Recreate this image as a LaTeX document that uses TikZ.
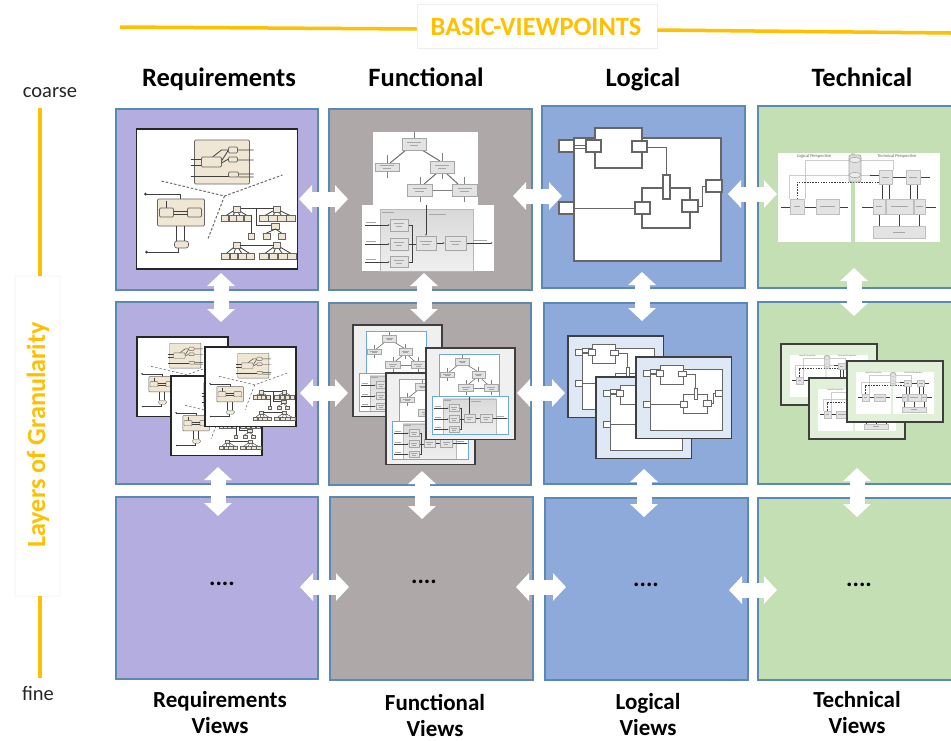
\documentclass[tikz,border=0pt]{standalone}
\usepackage{fontspec}
\setmainfont{Carlito}
\usetikzlibrary{arrows.meta}
\definecolor{reqc}{HTML}{B4ADE0}
\definecolor{func}{HTML}{AEA9A8}
\definecolor{logc}{HTML}{8EAADB}
\definecolor{tecc}{HTML}{C5DFB4}
\definecolor{edgec}{HTML}{5A89B4}
\definecolor{gold}{HTML}{FFC000}
\definecolor{tan}{HTML}{EFE6D3}
\definecolor{ink}{HTML}{3F3F3F}
\definecolor{mblue}{HTML}{6FA8DC}
\definecolor{lframe}{HTML}{DEE9F5}
\definecolor{tframe}{HTML}{E2EFD9}
\def\ms{1}
\tikzset{
 panel/.style={draw=edgec,line width=1.3pt,inner sep=0pt,outer sep=0pt},
 dbl/.style={draw=white,line width=15pt,{Triangle[length=13pt,width=27pt,fill=white]}-{Triangle[length=13pt,width=27pt,fill=white]}},
 rule/.style={draw=gold,line width=3.5pt},
 head/.style={font=\fontsize{26.5}{28}\selectfont\bfseries,text=black,inner sep=0pt,anchor=base},
 foot/.style={font=\fontsize{23}{26}\selectfont\bfseries,text=black,align=center,inner sep=0pt},
 side/.style={font=\fontsize{20.5}{22}\selectfont,text=black!85,inner sep=0pt},
 dots/.style={font=\fontsize{24}{26}\selectfont\bfseries,text=black,inner sep=0pt},
 mline/.style={draw=ink,line width=\ms*0.8pt},
 mthin/.style={draw=ink,line width=\ms*0.5pt},
 mtxt/.style={draw=gray!70,line width=\ms*0.7pt},
 mtan/.style={draw=ink!80,fill=tan,line width=\ms*0.7pt,rounded corners=\ms*1.2pt},
 mbox/.style={draw=gray!70,fill=gray!22,line width=\ms*0.5pt},
 lbox/.style={draw=gray!80!black,fill=white,line width=\ms*1.1pt},
 lwire/.style={draw=gray!80!black,line width=\ms*1pt},
 tbox/.style={draw=gray!50,fill=gray!22,line width=\ms*0.4pt},
 twire/.style={draw=gray!40,line width=\ms*0.8pt},
 ftag/.style={font=\fontsize{4.5}{5}\selectfont,text=gray!80!black,inner sep=0pt,transform shape},
}
% ---------- requirement tree helper: root x, root y, child left, child right, child y
\newcommand{\RTree}[5]{%
 \foreach \ti in {0,1,2,3}{
  \pgfmathsetmacro\tcx{#3+(#4-#3)*(\ti+0.5)/4}
  \pgfmathsetmacro\tcw{(#4-#3)/8.6}
  \draw[mline] (#1,#2+3) -- (\tcx,#5+1);
  \draw[mtan,rounded corners=0pt] (\tcx-\tcw,#5) rectangle (\tcx+\tcw,#5+6);
 }
 \draw[mtan,rounded corners=0pt] (#1-3.5,#2) rectangle (#1+3.5,#2+6);
}
% ---------- requirements diagram (frame 161 x 140)
\newcommand{\ReqDiag}[4]{%
\begin{scope}[shift={(#1,#2)},scale=#3]\def\ms{#3}
 \draw[draw=black!85,fill=white,line width=#4] (0,0) rectangle (161,140);
 % machine block
 \draw[mtan] (58,11) rectangle (113,55);
 \draw[mline] (54,30) -- (65,30) (54,36) -- (65,36) (54,47) -- (92,47);
 \draw[mline] (85,32) -- (92,21) (85,34) -- (92,30) (101,21) -- (117,21) (101,31) -- (117,31) (102,45) -- (117,45) (102,48) -- (117,48) (92,21) -- (85,21) -- (76,28);
 \draw[mtan] (65,28) rectangle (85,38);
 \draw[mtan] (92,18) rectangle (101,24);
 \draw[mtan] (92,28) rectangle (101,33);
 \draw[mtan] (92,43) rectangle (102,48);
 % viewpoint dividers
 \draw[draw=gray!85!black,line width=\ms*1pt,dash pattern=on 2.5pt off 1.8pt] (25,52) -- (88,67) -- (146,46) (88,67) -- (71,111);
 % state block
 \draw[mline] (9,65) -- (44,65) -- (44,70);
 \fill[ink] (9,65) circle (1.5);
 \draw[mline] (10,123) -- (42,123) -- (42,119);
 \fill[ink] (10,123) circle (1.5);
 \draw[mtan] (21,70) rectangle (68,97);
 \draw[mline] (30,72) -- (30,79);
 \draw[mtan] (23,79) rectangle (37,88);
 \draw[mtan] (51,79) rectangle (65,88);
 \draw[mthin] (37,82) -- (51,82) (37,85) -- (51,85);
 \draw[mthin] (40,97) -- (40,112) (48,97) -- (48,112);
 \draw[mtan,rounded corners=\ms*2.5pt] (38,112) rectangle (52,119);
 % trees
 \RTree{100}{77}{85}{115}{86}
 \RTree{140}{77}{123}{159}{86}
 \draw[mline] (104,79) -- (137,79);
 \draw[mline] (120,79) -- (120,96) -- (138,96) (115,86) -- (115,104);
 \draw[mtan,rounded corners=0pt] (112,104) rectangle (118,110);
 \draw[mtan,rounded corners=0pt] (135,94) rectangle (143,100);
 \draw[mline] (139,100) -- (130,104) (139,100) -- (145,104);
 \draw[mtan,rounded corners=0pt] (127,104) rectangle (134,110);
 \draw[mtan,rounded corners=0pt] (142,104) rectangle (149,110);
 \RTree{100}{113}{85}{118}{124}
 \RTree{140}{113}{123}{160}{124}
 \draw[mline] (103,116) -- (137,116);
\end{scope}}
% ---------- functional diagram (132 x 139)
\newcommand{\FBox}[4]{\draw[mbox] (#1,#2) rectangle (#3,#4);
 \draw[mtxt] ({#1+(#3-#1)*.22},{(#2+#4)/2-1.3}) -- ({#3-(#3-#1)*.22},{(#2+#4)/2-1.3}) ({#1+(#3-#1)*.32},{(#2+#4)/2+1.5}) -- ({#3-(#3-#1)*.32},{(#2+#4)/2+1.5});}
\newcommand{\FuncDiag}[4]{%
\begin{scope}[shift={(#1,#2)},scale=#3]\def\ms{#3}
 \fill[white] (11,0) rectangle (116,73);
 \fill[white] (0,73) rectangle (132,139);
 \shade[top color=gray!30,bottom color=gray!12] (18,77) rectangle (111,139);
 \draw[gray!55,line width=\ms*0.4pt] (18,77) rectangle (111,139);
 % hierarchy
 \draw[draw=gray!85!black,line width=\ms*1pt] (44,18) -- (28,31) (60,18) -- (78,29) (75,41) -- (62,52) (84,41) -- (96,52);
 \draw[mthin,gray] (52,0) -- (52,6) (25,23) -- (25,31) (80,21) -- (80,29) (25,39) -- (25,46) (58,45) -- (58,52) (102,45) -- (102,52) (80,41) -- (80,47) (58,64) -- (58,70) (102,64) -- (102,70) (70,58) -- (90,58);
 \FBox{40}{6}{64}{18}
 \FBox{13}{31}{37}{39}
 \FBox{68}{29}{92}{41}
 \FBox{45}{52}{70}{64}
 \FBox{90}{52}{115}{64}
 % control flow
 \draw[mthin,-{Latex[length=\ms*2pt]}] (64,73) -- (64,104);
 \draw[mthin,-{Latex[length=\ms*2pt]}] (3,93) -- (28,93);
 \draw[mthin,-{Latex[length=\ms*2pt]}] (3,112) -- (28,112);
 \draw[mthin,-{Latex[length=\ms*2pt]}] (3,130) -- (28,130);
 \draw[mthin] (46,93) -- (50,93) -- (50,130) -- (46,130) (46,112) -- (54,112);
 \draw[mthin,-{Latex[length=\ms*2pt]}] (74,111) -- (83,111);
 \draw[mthin,-{Latex[length=\ms*2pt]}] (104,111) -- (131,111);
 \FBox{28}{87}{46}{99}
 \FBox{28}{106}{46}{118}
 \FBox{28}{124}{46}{135}
 \FBox{54}{104}{74}{118}
 \FBox{83}{104}{104}{118}
 \draw[mtxt] (4,90) -- (14,90) (4,109) -- (14,109) (4,127) -- (14,127) (111,108) -- (125,108) (67,82) -- (84,82) (20,80) -- (32,80);
 #4
\end{scope}}
% ---------- logical diagram (147 x 123, ports stick out)
\newcommand{\LogDiag}[3]{%
\begin{scope}[shift={(#1,#2)},scale=#3]\def\ms{#3}
 \draw[lbox] (0,0) rectangle (147,123);
 \draw[lbox] (21,-10) rectangle (68,30);
 \draw[lbox] (68,50) rectangle (116,90);
 \draw[lwire] (0,7) -- (12,7) (0,10) -- (12,10);
 \draw[lwire] (73,9) -- (92,9) -- (92,37);
 \draw[lwire] (0,70) -- (61,70);
 \draw[lwire] (124,68) -- (128,68) -- (128,48) -- (132,48);
 \draw[lbox] (-15,2) rectangle (0,14);
 \draw[lbox] (12,2) rectangle (27,14);
 \draw[lbox] (58,3) rectangle (73,14);
 \draw[lbox] (-15,64) rectangle (0,76);
 \draw[lbox] (89,37) rectangle (96,61);
 \draw[lbox] (61,64) rectangle (76,76);
 \draw[lbox] (108,62) rectangle (124,74);
 \draw[lbox] (132,42) rectangle (148,54);
\end{scope}}
% ---------- technical diagram (162 x 89)
\newcommand{\TechDiag}[4]{%
\begin{scope}[shift={(#1,#2)},scale=#3]\def\ms{#3}
 \fill[white] (0,0) rectangle (73,89);
 \fill[white] (77,0) rectangle (162,89);
 \node[ftag] (#4a) at (36,3) {Logical Perspective};
 \node[ftag] (#4b) at (119,3) {Technical Perspective};
 % routing
 \draw[twire] (11,46) -- (11,22) -- (71,22) (27,46) -- (27,7) -- (71,7) (83,7) -- (115,7) -- (115,17) (83,22) -- (101,22);
 \draw[draw=ink,line width=\ms*0.8pt,dash pattern=on 1.5pt off 1.2pt] (19,46) -- (19,29) -- (101,29);
 % centre connector
 \draw[draw=gray!70,fill=gray!25,line width=\ms*0.7pt,rounded corners=\ms*2pt] (71,2) rectangle (83,29);
 \draw[draw=gray!70,fill=gray!15,line width=\ms*0.6pt] (77,7) ellipse (6 and 2.5) (77,22) ellipse (6 and 2.5);
 % left
 \draw[mthin] (3,54) -- (12,54) (26,54) -- (38,54) (61,54) -- (70,54) ;
 \draw[tbox] (12,46) rectangle (26,61);
 \draw[tbox] (38,46) rectangle (61,61);
 % right
 \draw[mthin] (92,22) -- (101,22) (114,24) -- (128,24) (142,24) -- (152,24) (84,54) -- (95,54) (147,54) -- (158,54);
 \draw[mline] (104,31) -- (104,46) (111,31) -- (111,46) (132,31) -- (132,46) (139,31) -- (139,46) (101,61) -- (101,73) (121,61) -- (121,73) (141,61) -- (141,73);
 \draw[tbox] (101,17) rectangle (114,31);
 \draw[tbox] (128,17) rectangle (142,31);
 \draw[tbox] (95,46) rectangle (107,61);
 \draw[tbox] (108,46) rectangle (135,61);
 \draw[tbox] (136,46) rectangle (147,61);
 \draw[tbox] (95,73) rectangle (147,85);
 \draw[mtxt] (16,53) -- (22,53) (42,53) -- (57,53) (104,24) -- (111,24) (131,24) -- (139,24) (98,53) -- (104,53) (113,53) -- (130,53) (138,53) -- (145,53) (115,79) -- (127,79);
\end{scope}}
\begin{document}
\begin{tikzpicture}[x=1pt,y=-1pt]
\useasboundingbox (0,0) rectangle (951,740);
\fill[white] (0,0) rectangle (951,740);

% ---- title and rules
\coordinate (tl) at (120,27);
\coordinate (tr) at (951,33);
\node[draw=black!7,fill=white,line width=.5pt,minimum width=240,minimum height=44,inner sep=0pt] (title) at (537,26) {};
\draw[rule] (tl) -- (title.west |- 0,29);
\draw[rule] (title.east |- 0,30) -- (tr);
\node[font=\fontsize{26.4}{28}\selectfont\bfseries,text=gold,inner sep=0pt] (titlet) at (536,27) {BASIC-VIEWPOINTS};

% ---- column heads
\node[head] (h1) at (219,86) {Requirements};
\node[head] (h2) at (426,86) {Functional};
\node[head] (h3) at (643,86) {Logical};
\node[head] (h4) at (862,86) {Technical};

% ---- granularity axis
\node[side] (coarse) at (50,92.5) {coarse};
\node[side] (fine) at (38,693) {fine};
\node[draw=black!7,fill=white,line width=.5pt,minimum width=45,minimum height=320,inner sep=0pt,rounded corners=1pt] (gbox) at (37.5,436) {};
\node[font=\fontsize{26.2}{28}\selectfont\bfseries,text=gold,inner sep=0pt,rotate=90] (gtext) at (38,435) {Layers of Granularity};
\coordinate (gtop) at (40,108);
\coordinate (gbot) at (40,678);
\draw[rule] (gtop) -- (gtop |- gbox.north);
\draw[rule] (gbot |- gbox.south) -- (gbot);

% ---- panels
\node[panel,fill=reqc,minimum width=202,minimum height=181] (p11) at (217,199.5) {};
\node[panel,fill=func,minimum width=203,minimum height=181] (p12) at (430.5,199.5) {};
\node[panel,fill=logc,minimum width=203,minimum height=182] (p13) at (643.5,197) {};
\node[panel,fill=tecc,minimum width=197,minimum height=182] (p14) at (856.5,197) {};
\node[panel,fill=reqc,minimum width=202,minimum height=182] (p21) at (217,393) {};
\node[panel,fill=func,minimum width=202,minimum height=182] (p22) at (430,394) {};
\node[panel,fill=logc,minimum width=203,minimum height=181] (p23) at (645.5,393.5) {};
\node[panel,fill=tecc,minimum width=197,minimum height=182] (p24) at (856.5,393) {};
\node[panel,fill=reqc,minimum width=202,minimum height=182] (p31) at (217,588) {};
\node[panel,fill=func,minimum width=203,minimum height=183] (p32) at (431.5,588.5) {};
\node[panel,fill=logc,minimum width=203,minimum height=182] (p33) at (646.5,589) {};
\node[panel,fill=tecc,minimum width=197,minimum height=182] (p34) at (856.5,589) {};

% ---- row 1 diagrams
\ReqDiag{136.5}{129}{1}{1.6pt}
\FuncDiag{362}{132}{1}{}
\LogDiag{574}{138}{1}
\TechDiag{778}{153}{1}{ta}

% ---- row 2 requirement copies
\ReqDiag{137}{337}{0.565}{1.2pt}
\ReqDiag{171}{376}{0.565}{1.2pt}
\ReqDiag{205}{347}{0.565}{1.2pt}

% ---- row 2 functional copies
\foreach \fx/\fy in {353/325,386/373,426/348}{
 \draw[draw=ink,fill=gray!12,line width=1.3pt] (\fx,\fy) rectangle (\fx+89,\fy+91.5);
 \FuncDiag{\fx+6.7}{\fy+6.7}{0.573}{\draw[mblue,line width=.8pt] (11,0) rectangle (116,73);\draw[mblue,line width=.8pt] (0,73) rectangle (132,139);}
}

% ---- row 2 logical copies
\foreach \fx/\fy in {568/336,596/377,636/357}{
 \draw[draw=ink,fill=lframe,line width=1.2pt] (\fx,\fy) rectangle (\fx+95.5,\fy+81.5);
 \LogDiag{\fx+14.3}{\fy+12.7}{0.489}
}

% ---- row 2 technical copies
\foreach \fx/\fy/\fn in {781/344/tb,809/378/tc,847/361/td}{
 \draw[draw=ink,fill=tframe,line width=1.3pt] (\fx,\fy) rectangle (\fx+96,\fy+61);
 \TechDiag{\fx+9.3}{\fy+10.7}{0.478}{\fn}
}

% ---- row 3 placeholders
\node[dots] (d1) at (222,584) {....};
\node[dots] (d2) at (424,582) {....};
\node[dots] (d3) at (646,585) {....};
\node[dots] (d4) at (859,585) {....};

% ---- horizontal double arrows
\coordinate (a1) at (299,199);   \coordinate (a2) at (348,199);
\coordinate (a3) at (513,196);   \coordinate (a4) at (562,196);
\coordinate (a5) at (728,194);   \coordinate (a6) at (777,194);
\coordinate (a7) at (300,393);   \coordinate (a8) at (348,393);
\coordinate (a9) at (517,393);   \coordinate (a10) at (565,393);
\coordinate (a11) at (300,587);  \coordinate (a12) at (349,587);
\coordinate (a13) at (516,587);  \coordinate (a14) at (566,587);
\coordinate (a15) at (729,590);  \coordinate (a16) at (777,590);
\foreach \ua/\ub in {a1/a2,a3/a4,a5/a6,a7/a8,a9/a10,a11/a12,a13/a14,a15/a16}{\draw[dbl] (\ua) -- (\ub);}

% ---- vertical double arrows
\coordinate (b1) at (221,273);   \coordinate (b2) at (221,322);
\coordinate (b3) at (424,273);   \coordinate (b4) at (424,322);
\coordinate (b5) at (642,272);   \coordinate (b6) at (642,321);
\coordinate (b7) at (854,268);   \coordinate (b8) at (854,316);
\coordinate (b9) at (218,467);   \coordinate (b10) at (218,516);
\coordinate (b11) at (422,471);  \coordinate (b12) at (422,519);
\coordinate (b13) at (644,469);  \coordinate (b14) at (644,517);
\coordinate (b15) at (857,468);  \coordinate (b16) at (857,517);
\foreach \ua/\ub in {b1/b2,b3/b4,b5/b6,b7/b8,b9/b10,b11/b12,b13/b14,b15/b16}{\draw[dbl] (\ua) -- (\ub);}

% ---- column feet
\node[foot] (f1) at (220,713) {Requirements\\Views};
\node[foot] (f2) at (435,715.5) {Functional\\Views};
\node[foot] (f3) at (648,715) {Logical\\Views};
\node[foot] (f4) at (857,713) {Technical\\Views};
\end{tikzpicture}
\end{document}
